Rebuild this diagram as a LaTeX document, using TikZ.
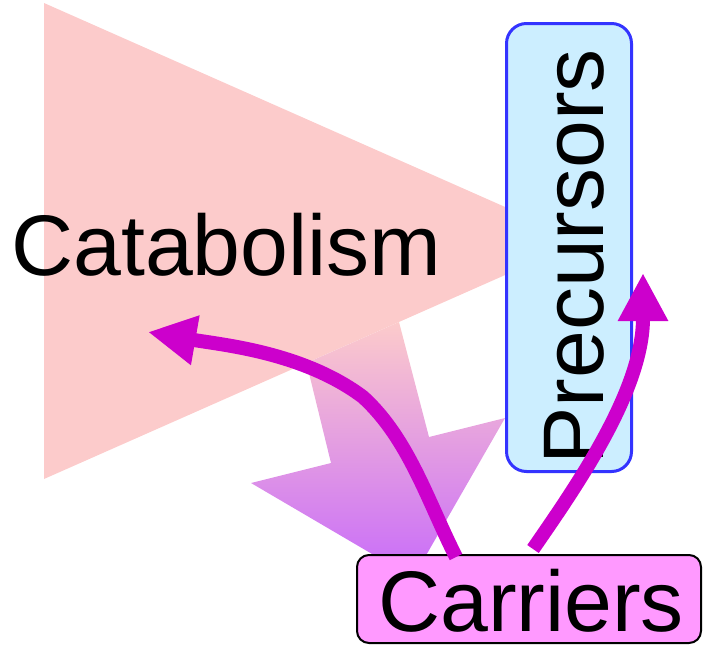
\documentclass[tikz,border=0pt]{standalone}
\usepackage{fontspec}
\setmainfont{Liberation Sans}
\usetikzlibrary{arrows.meta}
\definecolor{catpink}{HTML}{FCCBCB}
\definecolor{flowpurp}{HTML}{C86BFA}
\definecolor{preblue}{HTML}{CCEEFF}
\definecolor{preedge}{HTML}{3333FF}
\definecolor{carpink}{HTML}{FF99FF}
\definecolor{arrmag}{HTML}{CC00CC}
\begin{document}
\begin{tikzpicture}[x=1pt,y=-1pt,
  bigtext/.style={font=\fontsize{86}{86}\selectfont, inner sep=0pt},
  prebox/.style={draw=preedge, line width=3pt, fill=preblue, rounded corners=20pt, minimum width=125pt, minimum height=448pt, inner sep=0pt},
  carbox/.style={draw=black, line width=2pt, fill=carpink, rounded corners=12pt, minimum width=344pt, minimum height=88pt, inner sep=0pt},
  magarrow/.style={draw=arrmag, line width=14pt, -{Triangle[length=48pt,width=47pt]}}]
\useasboundingbox (0,0) rectangle (703,645);
% big catabolism wedge
\fill[catpink] (44,3) -- (582,241) -- (44,479) -- cycle;
% shaded flow arrow
\shade[top color=catpink, bottom color=flowpurp]
  (306.5,363) -- (331,463) -- (251,483) -- (413,578) -- (505,418) -- (429,437) -- (399,322) -- cycle;
% boxes
\node[prebox] (pre) at (569,247.5) {};
\node[bigtext, rotate=90, anchor=base west] (pretxt) at (603,465) {Precursors};
\node[carbox] (car) at (529,599) {};
\node[bigtext, anchor=base west] (cartxt) at (378,631) {Carriers};
\node[bigtext, anchor=base west] (cat) at (11,275) {Catabolism};
% magenta arrows
\coordinate (s1) at (456,557);
\coordinate (m1) at (363,397);
\coordinate (t1) at (148,332);
\coordinate (s2) at (533,549);
\coordinate (t2) at (643,273);
\draw[magarrow] (s1) .. controls (428,502) and (409,439) .. (m1)
  .. controls (303,352) and (221.5,344.8) .. (t1);
\draw[magarrow] (s2) .. controls (578,484) and (643,390) .. (t2);
\end{tikzpicture}
\end{document}
